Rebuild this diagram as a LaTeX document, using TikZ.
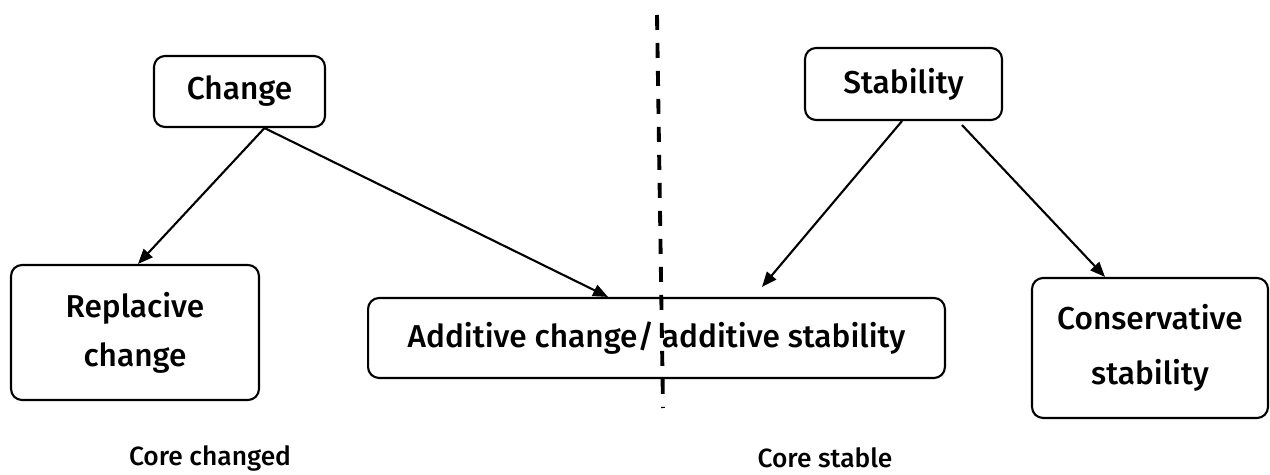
\documentclass[tikz,border=0pt]{standalone}
\usepackage{fontspec}
\setmainfont{Fira Sans Medium}
\usepackage{tikz}
\usetikzlibrary{arrows.meta}

\begin{document}
\begin{tikzpicture}[x=0.02cm, y=-0.02cm,
        box/.style={draw, line width=1.2pt, rounded corners=0.22cm, align=center,
            font=\fontsize{18}{28}\selectfont, inner sep=0pt},
        arr/.style={-{Triangle[length=0.3cm, width=0.24cm]}, line width=1.2pt},
        divider/.style={line width=2.2pt, dash pattern=on 0.3cm off 0.26cm},
        caption/.style={font=\fontsize{15}{20}\selectfont}]
            \useasboundingbox (0,0) rectangle (1270,475);

            \node[box, minimum width=3.42cm, minimum height=1.42cm] (change) at (239.5,91.5) {Change};
            \node[box, minimum width=3.94cm, minimum height=1.44cm] (stability) at (903.5,84) {Stability};
            \node[box, minimum width=4.96cm, minimum height=2.7cm] (replacive) at (135,332.5) {Replacive\\change};
            \node[box, minimum width=11.54cm, minimum height=1.6cm] (additive) at (656.5,338) {Additive change/ additive stability};
            \node[box, minimum width=4.72cm, minimum height=2.8cm, font=\fontsize{18}{31}\selectfont] (conservative) at (1150,348) {Conservative\\stability};

            \draw[arr] ([xshift=0.5cm]change.south) -- ([xshift=0.06cm]replacive.north);
            \draw[arr] ([xshift=0.5cm]change.south) -- ([xshift=-0.97cm]additive.north);
            \draw[arr] ([xshift=-0.03cm]stability.south) -- ([xshift=2.11cm, yshift=0.2cm]additive.north);
            \draw[arr] ([xshift=1.17cm, yshift=-0.08cm]stability.south) -- ([xshift=-0.9cm]conservative.north);

            % divider between the two sides
            \coordinate (divtop) at (657,15);
            \coordinate (divbot) at (663,408);
            \draw[divider] (divtop) -- (divbot);

            \node[caption] (corechanged) at (210,458) {Core changed};
            \node[caption] (corestable) at (825,458) {Core stable};

        \end{tikzpicture}
\end{document}
